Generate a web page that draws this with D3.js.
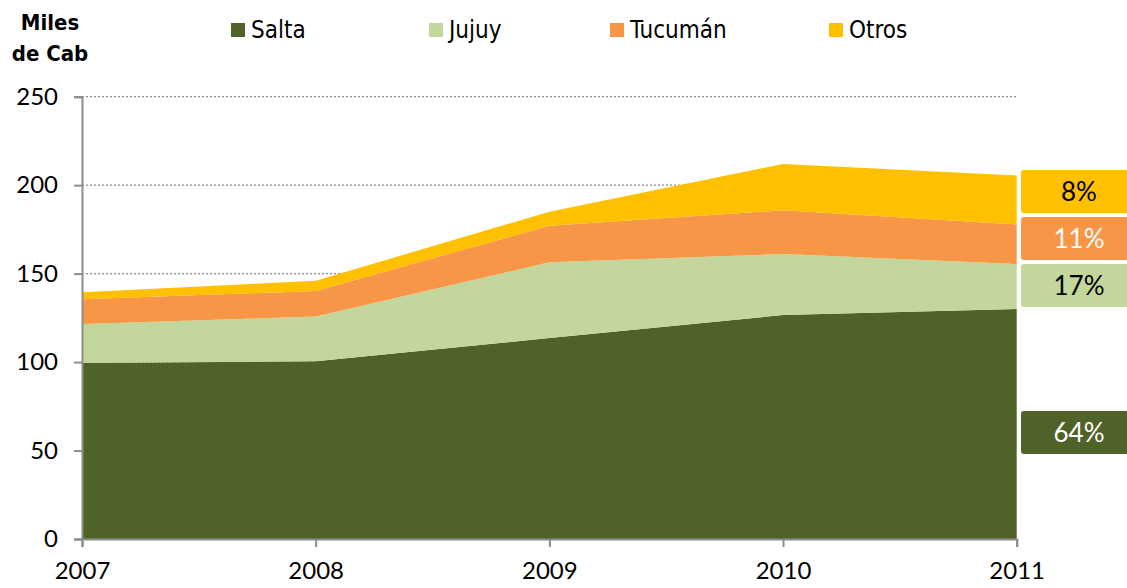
<!DOCTYPE html>
<html><head><meta charset="utf-8">
<script src="https://cdn.jsdelivr.net/npm/d3@7"></script>
<style>body{margin:0;background:#fff;} svg{display:block;}</style>
</head><body>
<svg id="c" width="1127" height="588"></svg>
<script>
const years = [2007, 2008, 2009, 2010, 2011];
const seriesNames = ["Salta", "Jujuy", "Tucumán", "Otros"];
const salta   = [99.5, 100.4, 113.6, 126.6, 130.0];
const jujuy   = [22.0, 25.3, 42.8, 34.5, 25.5];
const tucuman = [14.0, 14.5, 20.6, 24.7, 22.2];
const otros   = [4.0, 5.8, 8.0, 26.2, 27.7];
const colors  = ["#4F6228", "#C3D69B", "#F79646", "#FFC000"];
const yTicks  = [0, 50, 100, 150, 200, 250];
const shareLabels = ["64%", "17%", "11%", "8%"];
const shareTextColors = ["#fff", "#000", "#fff", "#000"];

const svg = d3.select("#c");
const x = d3.scalePoint().domain(years).range([82, 1016.7]);
const y = d3.scaleLinear().domain([0, 250]).range([539, 96.7]);

const rows = years.map((yr, i) => ({year: yr, Salta: salta[i], Jujuy: jujuy[i], "Tucumán": tucuman[i], Otros: otros[i]}));
const stack = d3.stack().keys(seriesNames)(rows);

// gridlines
svg.append("g").selectAll("line").data(yTicks.filter(d => d > 0)).join("line")
  .attr("x1", 82).attr("x2", 1016.7)
  .attr("y1", d => y(d)).attr("y2", d => y(d))
  .attr("stroke", "#8c8c8c").attr("stroke-width", 1.2).attr("stroke-dasharray", "2,2");

const area = d3.area().x(d => x(d.data.year)).y0(d => y(d[0])).y1(d => y(d[1]));
svg.append("g").selectAll("path").data(stack).join("path")
  .attr("d", area).attr("fill", (d, i) => colors[i]);

// y axis
const yAxis = d3.axisLeft(y).tickValues(yTicks).tickSize(8).tickPadding(16);
const gy = svg.append("g").attr("transform", "translate(82,0)").call(yAxis);
gy.select(".domain").attr("stroke", "#8c8c8c").attr("stroke-width", 2);
gy.selectAll(".tick line").attr("stroke", "#8c8c8c").attr("stroke-width", 2);
gy.selectAll("text").attr("font-family", "Lato, 'Open Sans', sans-serif").attr("font-size", 24).attr("fill", "#000");

// x axis
const xAxis = d3.axisBottom(x).tickValues(years).tickSize(8).tickPadding(18).tickFormat(d3.format("d"));
const gx = svg.append("g").attr("transform", "translate(0,539)").call(xAxis);
gx.select(".domain").attr("stroke", "#8c8c8c").attr("stroke-width", 2);
gx.selectAll(".tick line").attr("stroke", "#8c8c8c").attr("stroke-width", 2);
gx.selectAll("text").attr("font-family", "Lato, 'Open Sans', sans-serif").attr("font-size", 24).attr("fill", "#000").attr("dy", "0.6em");

// y title
const t = svg.append("text").attr("font-family", "'DejaVu Sans Condensed', 'DejaVu Sans', sans-serif")
  .attr("font-weight", "bold").attr("font-size", 22).attr("text-anchor", "middle").attr("fill", "#000");
t.append("tspan").attr("x", 50).attr("y", 30).text("Miles");
t.append("tspan").attr("x", 50).attr("y", 61).text("de Cab");

// legend
const legendX = [231, 429, 610, 829];
const lg = svg.append("g").selectAll("g").data(seriesNames).join("g")
  .attr("transform", (d, i) => `translate(${legendX[i]},23)`);
lg.append("rect").attr("width", 14).attr("height", 14).attr("fill", (d, i) => colors[i]);
lg.append("text").attr("x", 20).attr("y", 15).attr("font-family", "'DejaVu Sans Condensed', 'DejaVu Sans', sans-serif")
  .attr("font-size", 24).attr("fill", "#000").text(d => d);

// share labels on right
const boxTops = [411, 264, 217, 170];
const bx = svg.append("g").selectAll("g").data(shareLabels).join("g")
  .attr("transform", (d, i) => `translate(1021,${boxTops[i]})`);
bx.append("rect").attr("width", 120).attr("height", 43).attr("rx", 3).attr("fill", (d, i) => colors[i]);
bx.append("text").attr("x", 58).attr("y", 31).attr("text-anchor", "middle")
  .attr("font-family", "Lato, 'Open Sans', sans-serif").attr("font-size", 26)
  .attr("fill", (d, i) => shareTextColors[i]).text(d => d);
</script>
</body></html>
